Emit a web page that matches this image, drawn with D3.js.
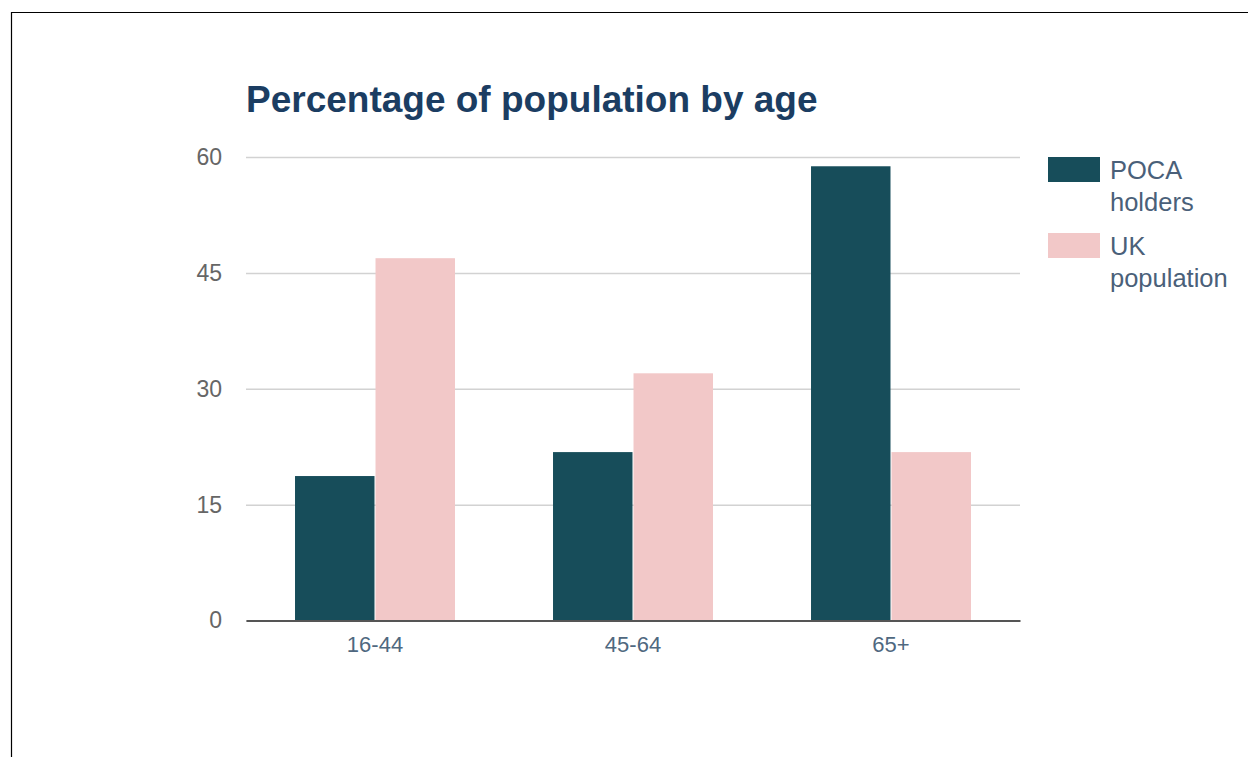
<!DOCTYPE html>
<html>
<head>
<meta charset="utf-8">
<script src="https://cdn.jsdelivr.net/npm/d3@7/dist/d3.min.js"></script>
<style>
  body { margin: 0; background: #fff; }
  svg { display: block; font-family: "Liberation Sans", Arial, sans-serif; }
</style>
</head>
<body>
<div id="chart"></div>
<script>
const categories = ["16-44", "45-64", "65+"];
const seriesNames = ["POCA holders", "UK population"];
const pocaValues = [18.7, 21.8, 58.8];
const ukValues = [46.9, 32.0, 21.8];
const yTicks = [0, 15, 30, 45, 60];
const legendLines = [["POCA", "holders"], ["UK", "population"]];

const colors = ["#174d5a", "#f2c8c8"];

const width = 1248, height = 757;
const plot = { left: 246, right: 1020, top: 157, bottom: 620.5 };

const svg = d3.select("#chart").append("svg")
    .attr("width", width)
    .attr("height", height);

// thin frame on top/left (the screenshot cuts the rest off)
svg.append("path")
    .attr("d", `M11.5,${height} V12.5 H${width}`)
    .attr("fill", "none")
    .attr("stroke", "#000")
    .attr("stroke-width", 1.2);

const x0 = d3.scaleBand()
    .domain(categories)
    .range([plot.left, plot.right])
    .paddingInner(0.38)
    .paddingOuter(0.19);

const x1 = d3.scaleBand()
    .domain(seriesNames)
    .range([0, x0.bandwidth()])
    .paddingInner(0.0125);

const y = d3.scaleLinear()
    .domain([0, 60])
    .range([plot.bottom, plot.top]);

// gridlines + y labels
const yAxis = d3.axisLeft(y)
    .tickValues(yTicks)
    .tickSize(-(plot.right - plot.left))
    .tickPadding(24);

const gy = svg.append("g")
    .attr("transform", `translate(${plot.left},0)`)
    .call(yAxis);
gy.select(".domain").remove();
gy.selectAll(".tick line").attr("stroke", "#d2d2d2").attr("stroke-width", 1.5);
gy.selectAll(".tick text")
    .attr("fill", "#666")
    .attr("font-size", 23)
    .attr("font-family", "Liberation Sans, Arial, sans-serif");

// bars
const rows = categories.map((c, i) => ({ cat: c, vals: [pocaValues[i], ukValues[i]] }));

const groups = svg.append("g").selectAll("g")
    .data(rows)
    .join("g")
    .attr("transform", d => `translate(${x0(d.cat)},0)`);

groups.selectAll("rect")
    .data(d => d.vals.map((v, j) => ({ key: seriesNames[j], v, j })))
    .join("rect")
    .attr("x", d => x1(d.key))
    .attr("y", d => y(d.v))
    .attr("width", x1.bandwidth())
    .attr("height", d => y(0) - y(d.v))
    .attr("fill", d => colors[d.j]);

// baseline + x labels
const xAxis = d3.axisBottom(x0).tickSize(0).tickPadding(16);
const gx = svg.append("g")
    .attr("transform", `translate(0,${plot.bottom})`)
    .call(xAxis);
gx.select(".domain").attr("stroke", "#555").attr("stroke-width", 2);
gx.selectAll(".tick text")
    .attr("fill", "#4f6880")
    .attr("font-size", 22)
    .attr("font-family", "Liberation Sans, Arial, sans-serif");

// title
svg.append("text")
    .attr("x", 246)
    .attr("y", 112)
    .attr("font-size", 37)
    .attr("font-weight", "bold")
    .attr("fill", "#1b3d62")
    .text("Percentage of population by age");

// legend
const legend = svg.append("g").attr("transform", "translate(1048,157)");
seriesNames.forEach((name, i) => {
    const g = legend.append("g").attr("transform", `translate(0,${i * 76})`);
    g.append("rect")
        .attr("width", 52)
        .attr("height", 25)
        .attr("fill", colors[i]);
    const t = g.append("text")
        .attr("x", 62)
        .attr("y", 22)
        .attr("font-size", 25.5)
        .attr("fill", "#4a6079");
    legendLines[i].forEach((ln, k) => {
        t.append("tspan").attr("x", 62).attr("dy", k === 0 ? 0 : 32).text(ln);
    });
});
</script>
</body>
</html>
